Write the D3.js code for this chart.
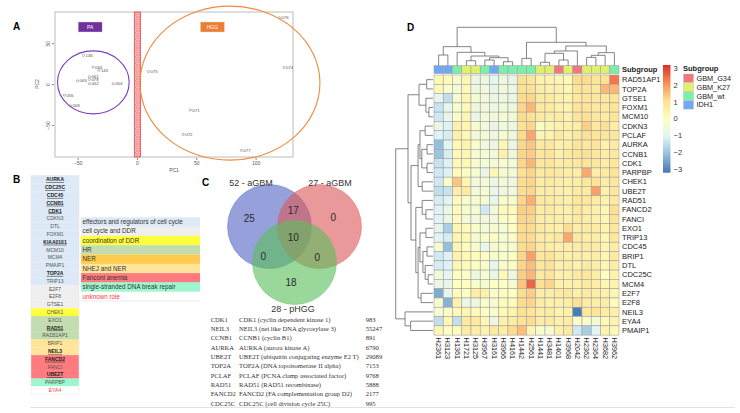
<!DOCTYPE html>
<html lang="en">
<head>
<meta charset="UTF-8">
<title>Figure</title>
<script src="https://cdn.jsdelivr.net/npm/d3@7/dist/d3.min.js"></script>
<style>
    body { margin: 0; background: #fff; }
    svg { display: block; font-family: "Liberation Sans", Arial, sans-serif; }
</style>
</head>
<body>
<svg id="fig" width="740" height="413"></svg>
<script>
// ---- panel A: PCA ----
const pcaIds = ["146","063","145","061","078","052","065","054","055","058","075","071","072","077","076","074"];
const pcaPC1 = [-45,-37,-32,-40,-40,-40,-50,-20,-61,-56,9.6,45,39,88,120,124];
const pcaPC2 = [35,20.7,17,8.9,5.7,0.4,4,0.4,-13.4,-26.5,15.4,-31.7,-61.4,-80.9,80.9,20.4];
const pcaTicksX = [-50, 0, 50, 100];
const pcaTicksY = [-50, 0, 50];
// group ellipses: centre and radii in PC units
const groupNames = ["PA", "HGG"];
const groupCx = [-36.7, 78.4];
const groupCy = [2.1, 1.2];
const groupRx = [30.2, 75.8];
const groupRy = [38.5, 94];
const groupColors = ["#7b3fbf", "#f08a3c"];
const groupBoxColors = ["#7030a0", "#ed7d31"];
const groupBoxX = [-49.5, 53.5];

// ---- panel B ----
const geneList = ["AURKA","CDC25C","CDC45","CCNB1","CDK1","CDKN3","DTL","FOXM1","KIAA0101","MCM10","MCM4","PMAIP1","TOP2A","TRIP13","E2F7","E2F8","GTSE1","CHEK1","EXO1","RAD51","RAD51AP1","BRIP1","NEIL3","FANCD2","FANCI","UBE2T","PARPBP","EYA4"];
const geneRole = [0,0,0,0,0,0,0,0,0,0,0,0,0,0,1,1,1,2,3,3,3,5,5,6,6,6,7,8];
const geneBold = ["AURKA","CDC25C","CDC45","CCNB1","CDK1","KIAA0101","TOP2A","RAD51","NEIL3","FANCD2","UBE2T"];
const roleLabels = ["effectors and regulators of cell cycle","cell cycle and DDR","coordination of DDR","HR","NER","NHEJ and NER","Fanconi anemia","single-stranded DNA break repair","unknown role"];
const roleColors = ["#dde9f6","#efefef","#ffff3c","#c3ddb0","#ffcb4f","#ffe59a","#ff7b7f","#9cf7ce","#ffffff"];

// ---- panel C ----
const vennSets = ["52 - aGBM", "27 - aGBM", "28 - pHGG"];
const vennColors = ["#5566c4", "#dc5a5a", "#5cbf5c"];
const vennCounts = [25, 17, 0, 10, 0, 0, 18];
const tabSymbol = ["CDK1","NEIL3","CCNB1","AURKA","UBE2T","TOP2A","PCLAF","RAD51","FANCD2","CDC25C"];
const tabDesc = ["CDK1 (cyclin dependent kinase 1)","NEIL3 (nei like DNA glycosylase 3)","CCNB1 (cyclin B1)","AURKA (aurora kinase A)","UBE2T (ubiquitin conjugating enzyme E2 T)","TOP2A (DNA topoisomerase II alpha)","PCLAF (PCNA clamp associated factor)","RAD51 (RAD51 recombinase)","FANCD2 (FA complementation group D2)","CDC25C (cell division cycle 25C)"];
const tabId = ["983","55247","891","6790","29089","7153","9768","5888","2177","995"];

// ---- panel D: heatmap ----
const hmRows = ["RAD51AP1","TOP2A","GTSE1","FOXM1","MCM10","CDKN3","PCLAF","AURKA","CCNB1","CDK1","PARPBP","CHEK1","UBE2T","RAD51","FANCD2","FANCI","EXO1","TRIP13","CDC45","BRIP1","DTL","CDC25C","MCM4","E2F7","E2F8","NEIL3","EYA4","PMAIP1"];
const hmCols = ["H2361","H3123","H1361","H1721","H3125","H3967","H3161","H3966","H4161","H1442","H2561","H1441","H3481","H1401","H3968","H2042","H2362","H2364","H3682","H3962"];
const colGroup = ["IDH1","IDH1","GBM_wt","GBM_K27","GBM_K27","GBM_wt","IDH1","GBM_wt","GBM_wt","GBM_wt","GBM_wt","GBM_K27","GBM_K27","GBM_G34","GBM_K27","GBM_G34","GBM_K27","GBM_K27","GBM_K27","GBM_wt"];
const subgroups = ["GBM_G34","GBM_K27","GBM_wt","IDH1"];
const subgroupColors = ["#f2777b","#e1f06a","#78f0a8","#70a8f2"];
const legendTicks = [3, 2, 1, 0, -1, -2, -3];
const expr = [
    [0.2,0.1,-0.3,0.3,-0.7,-0.6,-0.9,-0.6,-0.8,1.0,0.9,0.4,0.4,0.3,0.2,1.1,1.1,0.9,1.0,2.4],
    [0.2,-0.2,-0.4,0.2,-0.6,-0.5,-0.8,-0.5,-0.7,1.0,1.0,0.6,0.5,0.5,0.3,0.9,0.9,0.8,1.6,1.6],
    [-0.9,-1.5,-0.3,0.3,-0.4,-0.5,-0.7,-0.6,-0.7,1.1,1.2,0.7,0.7,0.5,0.4,0.8,0.9,0.8,0.8,0.9],
    [-1.4,-0.9,-0.3,0.2,-0.6,-0.5,-0.6,-0.5,-0.6,1.2,1.6,0.7,0.7,0.5,0.4,0.9,0.9,0.8,0.7,0.9],
    [-1.3,-0.8,-0.2,0.3,-0.7,-0.4,-0.5,-0.3,-0.5,1.1,1.0,0.7,0.6,0.6,0.4,0.9,1.0,0.8,0.7,0.9],
    [-0.7,-1.1,0.5,0.3,-0.3,-0.5,-0.8,-0.5,-0.6,1.0,1.2,-0.1,0.3,0.4,0.5,0.6,1.3,0.8,1.0,0.6],
    [-1.1,-1.2,0.5,0.2,-0.5,-0.4,-0.6,-0.3,-0.6,1.1,1.8,0.3,0.4,0.7,0.5,0.8,1.0,0.9,0.9,0.8],
    [-2.1,-1.0,0.2,0.4,-0.2,-0.5,-0.7,0.3,-0.7,1.2,1.4,0.7,0.8,0.5,0.6,0.9,0.8,0.9,0.5,0.7],
    [-2.0,-1.2,0.2,0.3,-0.3,-0.4,-0.5,0.5,-0.6,1.2,1.3,0.8,0.9,0.5,0.7,0.9,1.0,0.8,0.6,0.8],
    [-1.4,-1.1,0.2,0.2,-0.3,-0.4,-0.4,-0.3,-0.4,1.2,1.6,0.8,0.9,0.6,0.7,0.8,0.9,0.8,0.6,0.8],
    [-1.3,-1.1,0.1,-0.1,-0.3,-0.8,0.3,-0.3,-0.4,1.0,1.2,0.7,0.8,0.7,0.6,0.6,1.8,0.6,0.7,0.9],
    [-1.3,-0.2,1.4,0.3,-0.5,-0.4,-0.7,-0.4,-0.6,1.1,1.2,0.6,0.7,0.6,0.5,0.6,0.8,0.9,0.6,0.8],
    [-1.5,-1.4,0.6,0.7,-0.5,-0.3,-0.7,-0.6,-0.5,1.1,1.2,0.6,0.6,0.5,0.5,0.7,0.7,1.9,0.5,0.8],
    [-1.2,-1.0,0.1,-0.2,-0.3,-0.3,-0.8,-0.2,-0.3,1.2,1.7,0.7,0.7,0.6,0.5,0.8,0.8,0.6,0.4,0.7],
    [-1.1,-0.7,0.1,-0.2,-0.4,-1.3,-0.5,0.1,0.1,1.3,1.3,0.6,0.7,0.5,0.5,0.8,0.6,0.5,0.3,1.0],
    [-1.0,-0.7,0.1,-0.4,-0.5,-0.5,-0.5,-0.1,0.0,1.2,1.2,0.6,0.6,0.6,0.5,0.7,0.6,0.5,0.3,0.9],
    [-0.9,-1.8,0.3,0.1,-0.2,-0.4,-0.3,-0.3,0.0,1.1,1.1,0.7,0.6,0.5,1.1,0.6,0.7,0.7,0.4,0.8],
    [-1.0,-1.2,0.3,0.2,-0.3,-0.2,-0.1,-0.3,-0.2,1.1,1.1,0.6,0.6,0.8,1.8,0.7,0.6,0.6,0.3,0.8],
    [-0.3,-2.1,0.3,0.1,-0.3,-0.8,-0.3,-0.2,-0.3,1.1,1.2,0.7,0.6,0.5,0.6,0.6,0.7,0.6,0.3,0.6],
    [-1.3,-1.1,0.4,0.2,0.1,-0.1,-0.3,-0.2,0.0,1.2,1.9,0.8,0.9,0.6,0.5,0.6,0.5,0.6,0.3,0.7],
    [-1.2,-1.1,0.3,0.1,0.0,-0.2,-0.8,-0.2,-0.1,1.2,1.5,0.8,1.0,0.5,0.6,0.4,0.7,0.6,0.3,0.6],
    [-0.5,-0.9,0.0,-0.1,-0.6,-0.3,-0.7,0.2,-0.6,1.3,1.6,0.7,0.9,0.5,0.5,0.7,0.8,0.6,0.0,0.4],
    [-0.7,-0.8,0.0,0.0,-0.2,-0.3,-0.1,-0.1,-0.3,1.4,2.6,1.0,1.2,0.5,0.5,0.5,0.7,0.6,0.3,0.4],
    [-2.4,-0.8,0.1,0.0,0.6,0.5,-0.2,0.1,0.0,1.1,1.3,0.6,0.6,0.7,0.8,0.5,0.7,0.6,0.5,0.3],
    [-0.3,-2.3,0.4,-0.7,-0.6,-0.2,-0.3,0.1,0.1,1.1,1.2,0.6,0.5,0.5,0.6,1.0,0.6,0.6,0.6,0.1],
    [-0.3,-0.2,0.2,0.3,0.1,-0.1,-0.2,0.2,0.4,1.0,0.9,0.6,0.7,0.4,0.5,-3.1,0.8,0.9,0.6,0.5],
    [-1.5,0.3,-1.5,0.7,0.7,0.3,-0.7,0.5,0.6,0.9,1.1,0.6,0.7,0.5,0.6,-0.2,-0.2,-0.4,0.2,0.4],
    [0.3,-0.1,0.1,0.6,0.6,0.4,0.7,0.6,1.1,1.5,0.3,-0.2,-0.3,0.5,0.7,-1.3,-1.8,-1.0,0.4,0.2]
];
// dendrograms: leaves are column/row indices, h = merge height (root = 1)
const colTree = {h: 1, c: [
    {h: .496, c: [{h: .278, c: [0, 1]},
                  {h: .348, c: [2, {h: .252, c: [{h: .13, c: [3, 4]},
                                                 {h: .209, c: [{h: .148, c: [5, 6]}, {h: .104, c: [7, 8]}]}]}]}]},
    {h: .609, c: [{h: .191, c: [9, 10]},
                  {h: .513, c: [{h: .383, c: [{h: .322, c: [{h: .087, c: [11, 12]}, {h: .148, c: [13, 14]}]}, 15]},
                                {h: .34, c: [{h: .27, c: [{h: .217, c: [16, 17]}, 18]}, 19]}]}]}
]};
const rowTree = {h: 1, c: [
    {h: .67, c: [
        {h: .375, c: [{h: .17, c: [0, 1]}, {h: .19, c: [2, {h: .11, c: [3, 4]}]}]},
        {h: .59, c: [
            {h: .40, c: [{h: .35, c: [{h: .21, c: [5, 6]}, {h: .30, c: [{h: .16, c: [7, 8]}, {h: .16, c: [9, 10]}]}]},
                         {h: .29, c: [11, 12]}]},
            {h: .46, c: [{h: .29, c: [13, {h: .19, c: [14, 15]}]},
                         {h: .40, c: [{h: .35, c: [{h: .19, c: [16, 17]},
                                                   {h: .27, c: [{h: .16, c: [18, 19]}, {h: .21, c: [20, {h: .13, c: [21, 22]}]}]}]},
                                      {h: .32, c: [23, 24]}]}]}
        ]}
    ]},
    {h: .75, c: [25, {h: .6, c: [26, 27]}]}
]};

const svg = d3.select("#fig");

// panel letters
svg.selectAll("text.panel")
    .data([["A", 13, 30], ["B", 13, 183], ["C", 202, 186], ["D", 407, 31]])
    .enter().append("text")
    .attr("class", "panel")
    .attr("x", d => d[1]).attr("y", d => d[2])
    .attr("font-size", 10).attr("font-weight", "bold")
    .text(d => d[0]);

svg.append("line")
    .attr("x1", 30).attr("x2", 735).attr("y1", 407.5).attr("y2", 407.5)
    .attr("stroke", "#e2e2e2").attr("stroke-width", 1);

// ================= A =================
function drawPCA() {
    const g = svg.append("g");
    const x = d3.scaleLinear().domain([-69, 131.5]).range([55, 293]);
    const y = d3.scaleLinear().domain([-89, 88]).range([157, 12]);

    const defs = svg.append("defs");
    const pat = defs.append("pattern")
        .attr("id", "hatch").attr("patternUnits", "userSpaceOnUse")
        .attr("width", 2.4).attr("height", 2.4);
    pat.append("rect").attr("width", 2.4).attr("height", 2.4).attr("fill", "#fbd0d0");
    pat.append("path").attr("d", "M0,0L2.4,2.4M2.4,0L0,2.4")
        .attr("stroke", "#ee5555").attr("stroke-width", 0.45);
    defs.append("clipPath").attr("id", "pcaClip")
        .append("rect").attr("x", 55).attr("y", 12).attr("width", 238).attr("height", 145);

    g.append("rect")
        .attr("x", 55).attr("y", 12).attr("width", 238).attr("height", 145)
        .attr("fill", "none").attr("stroke", "#aaa").attr("stroke-width", 0.8);

    const xa = g.append("g").attr("transform", "translate(0,158)")
        .call(d3.axisBottom(x).tickValues(pcaTicksX).tickSize(2).tickPadding(1.5));
    xa.select(".domain").remove();
    xa.selectAll("line").attr("stroke", "#888");
    xa.selectAll("text").attr("font-size", 5).attr("fill", "#555");

    const ya = g.append("g").attr("transform", "translate(54,0)")
        .call(d3.axisLeft(y).tickValues(pcaTicksY).tickSize(2));
    ya.select(".domain").remove();
    ya.selectAll("line").attr("stroke", "#888");
    ya.selectAll("text")
        .attr("font-size", 5).attr("fill", "#555")
        .attr("x", 0).attr("y", -4).attr("dy", 0)
        .attr("text-anchor", "middle")
        .attr("transform", "rotate(-90)");

    g.append("text").attr("x", 174).attr("y", 172).attr("text-anchor", "middle")
        .attr("font-size", 5).attr("fill", "#555").text("PC1");
    g.append("text").attr("transform", "translate(39,84) rotate(-90)").attr("text-anchor", "middle")
        .attr("font-size", 5).attr("fill", "#555").text("PC2");

    // separation band
    g.append("rect")
        .attr("x", x(-2.2)).attr("y", 12)
        .attr("width", x(3.1) - x(-2.2)).attr("height", 145)
        .attr("fill", "url(#hatch)").attr("stroke", "#e23a3a").attr("stroke-width", 0.7);

    const pts = pcaIds.map((id, i) => ({id: id, pc1: pcaPC1[i], pc2: pcaPC2[i]}));
    const pg = g.append("g").attr("clip-path", "url(#pcaClip)");
    pg.selectAll("circle").data(pts).enter().append("circle")
        .attr("cx", d => x(d.pc1)).attr("cy", d => y(d.pc2)).attr("r", 1.1)
        .attr("fill", "none").attr("stroke", "#777").attr("stroke-width", 0.5);
    pg.selectAll("text").data(pts).enter().append("text")
        .attr("x", d => x(d.pc1) + 2).attr("y", d => y(d.pc2)).attr("dy", "0.35em")
        .attr("font-size", 4.4).attr("fill", "#555")
        .text(d => d.id);

    g.selectAll("ellipse").data(groupNames).enter().append("ellipse")
        .attr("cx", (d, i) => x(groupCx[i])).attr("cy", (d, i) => y(groupCy[i]))
        .attr("rx", (d, i) => x(groupCx[i] + groupRx[i]) - x(groupCx[i]))
        .attr("ry", (d, i) => y(groupCy[i]) - y(groupCy[i] + groupRy[i]))
        .attr("fill", "none").attr("stroke", (d, i) => groupColors[i]).attr("stroke-width", 1.1);

    const lab = g.selectAll("g.grp").data(groupNames).enter().append("g").attr("class", "grp");
    lab.append("rect")
        .attr("x", (d, i) => x(groupBoxX[i])).attr("y", 22)
        .attr("width", 24).attr("height", 10)
        .attr("fill", (d, i) => groupBoxColors[i]).attr("stroke", "#ddd").attr("stroke-width", 0.4);
    lab.append("text")
        .attr("x", (d, i) => x(groupBoxX[i]) + 12).attr("y", 27).attr("dy", "0.35em")
        .attr("text-anchor", "middle").attr("font-size", 5).attr("fill", "#fff")
        .text(d => d);
}

// ================= B =================
function drawGenes() {
    const g = svg.append("g");
    const rowH = 7.8, top = 175.7;
    const y = i => top + i * rowH;
    g.selectAll("rect.gene").data(geneList).enter().append("rect")
        .attr("class", "gene")
        .attr("x", 31).attr("y", (d, i) => y(i)).attr("width", 48).attr("height", rowH + 0.2)
        .attr("fill", (d, i) => roleColors[geneRole[i]]);
    g.append("rect").attr("x", 31).attr("y", top).attr("width", 48).attr("height", rowH * geneList.length)
        .attr("fill", "none").attr("stroke", "#e4e4e4").attr("stroke-width", 0.5);
    g.selectAll("text.gene").data(geneList).enter().append("text")
        .attr("class", "gene")
        .attr("x", 55).attr("y", (d, i) => y(i) + rowH / 2).attr("dy", "0.35em")
        .attr("text-anchor", "middle").attr("font-size", 5)
        .attr("font-weight", d => geneBold.includes(d) ? "bold" : "normal")
        .attr("text-decoration", d => geneBold.includes(d) ? "underline" : null)
        .attr("fill", (d, i) => geneRole[i] === 8 ? "#ff3b3b" : (geneBold.includes(d) ? "#222" : "#555"))
        .text(d => d);

    const lTop = 217.3, lH = 9.3;
    g.selectAll("rect.role").data(roleLabels).enter().append("rect")
        .attr("class", "role")
        .attr("x", 81).attr("y", (d, i) => lTop + i * lH).attr("width", 119).attr("height", lH + 0.2)
        .attr("fill", (d, i) => roleColors[i]);
    g.append("line").attr("x1", 81).attr("x2", 200)
        .attr("y1", lTop + roleLabels.length * lH).attr("y2", lTop + roleLabels.length * lH)
        .attr("stroke", "#ddd").attr("stroke-width", 0.6);
    g.selectAll("text.role").data(roleLabels).enter().append("text")
        .attr("class", "role")
        .attr("x", 82.5).attr("y", (d, i) => lTop + i * lH + lH / 2).attr("dy", "0.35em")
        .attr("font-size", 6.3)
        .attr("fill", (d, i) => i === 8 ? "#ff3b3b" : "#333")
        .text(d => d);
}

// ================= C =================
function drawVenn() {
    const g = svg.append("g");
    const r = 42;
    const cx = [269.5, 319.5, 294.5], cy = [226.5, 226.5, 262.5];
    g.selectAll("circle").data(vennSets).enter().append("circle")
        .attr("cx", (d, i) => cx[i]).attr("cy", (d, i) => cy[i]).attr("r", r)
        .attr("fill", (d, i) => vennColors[i]).attr("fill-opacity", 0.62)
        .attr("stroke", (d, i) => vennColors[i]).attr("stroke-opacity", 0.7).attr("stroke-width", 0.6);
    const titlePos = [[251, 186], [330, 186], [293, 311.5]];
    g.selectAll("text.set").data(vennSets).enter().append("text")
        .attr("class", "set")
        .attr("x", (d, i) => titlePos[i][0]).attr("y", (d, i) => titlePos[i][1])
        .attr("text-anchor", "middle").attr("font-size", 9).attr("fill", "#333")
        .text(d => d);
    // region order: A only, A&B, B only, A&B&C, A&C, B&C, C only
    const countPos = [[249.3, 218.3], [293.3, 210], [333.3, 217.7], [293.3, 237.7], [263.3, 256], [317.3, 257.3], [291, 282.7]];
    g.selectAll("text.cnt").data(vennCounts).enter().append("text")
        .attr("class", "cnt")
        .attr("x", (d, i) => countPos[i][0]).attr("y", (d, i) => countPos[i][1]).attr("dy", "0.35em")
        .attr("text-anchor", "middle").attr("font-size", 10).attr("fill", "#2a2a2a")
        .text(d => d);

    const t = g.append("g").attr("font-family", "'Liberation Serif', 'Times New Roman', serif")
        .attr("font-size", 6.6).attr("fill", "#333");
    const rowY = i => 319.3 + i * 9.33;
    t.selectAll("text.sym").data(tabSymbol).enter().append("text").attr("class", "sym")
        .attr("x", 210.7).attr("y", (d, i) => rowY(i)).attr("dy", "0.35em").text(d => d);
    t.selectAll("text.desc").data(tabDesc).enter().append("text").attr("class", "desc")
        .attr("x", 239).attr("y", (d, i) => rowY(i)).attr("dy", "0.35em").text(d => d);
    t.selectAll("text.id").data(tabId).enter().append("text").attr("class", "id")
        .attr("x", 365.7).attr("y", (d, i) => rowY(i)).attr("dy", "0.35em").text(d => d);
}

// ================= D =================
function layoutTree(tree) {
    const root = d3.hierarchy(tree, d => d.c);
    root.eachAfter(n => {
        if (n.children) { n.pos = d3.mean(n.children, c => c.pos); n.h = n.data.h; }
        else { n.pos = n.data; n.h = 0; }
    });
    return root;
}

function drawDendro(g, root, posScale, hScale, horizontal) {
    const segs = [];
    root.each(n => {
        if (!n.children) return;
        const ps = n.children.map(c => c.pos);
        segs.push([d3.min(ps), n.h, d3.max(ps), n.h]);
        n.children.forEach(c => segs.push([c.pos, n.h, c.pos, c.h]));
    });
    g.selectAll("line").data(segs).enter().append("line")
        .attr(horizontal ? "x1" : "y1", d => posScale(d[0]))
        .attr(horizontal ? "y1" : "x1", d => hScale(d[1]))
        .attr(horizontal ? "x2" : "y2", d => posScale(d[2]))
        .attr(horizontal ? "y2" : "x2", d => hScale(d[3]))
        .attr("stroke", "#666").attr("stroke-width", 0.8);
}

function drawHeatmap() {
    const g = svg.append("g");
    const x0 = 434, cw = 9.25, y0 = 75, ch = 9.29;
    const x = d3.scaleLinear().domain([0, hmCols.length]).range([x0, x0 + cw * hmCols.length]);
    const y = d3.scaleLinear().domain([0, hmRows.length]).range([y0, y0 + ch * hmRows.length]);
    const color = d3.scaleLinear()
        .domain([-3.2, -2.13, -1.07, 0, 1.07, 2.13, 3.2])
        .range(["#4575b4", "#91bfdb", "#e0f3f8", "#ffffbf", "#fee090", "#fc8d59", "#d73027"]);
    const grpColor = d3.scaleOrdinal().domain(subgroups).range(subgroupColors);

    const cells = [];
    expr.forEach((row, r) => row.forEach((v, c) => cells.push({r: r, c: c, v: v})));
    g.selectAll("rect.cell").data(cells).enter().append("rect")
        .attr("class", "cell")
        .attr("x", d => x(d.c)).attr("y", d => y(d.r))
        .attr("width", cw).attr("height", ch)
        .attr("fill", d => color(d.v))
        .attr("stroke", "#a3a3a3").attr("stroke-width", 0.6);

    // annotation bar
    g.selectAll("rect.ann").data(colGroup).enter().append("rect")
        .attr("class", "ann")
        .attr("x", (d, i) => x(i)).attr("y", 65.7).attr("width", cw).attr("height", 7.8)
        .attr("fill", d => grpColor(d))
        .attr("stroke", "#a3a3a3").attr("stroke-width", 0.6);
    g.append("text").attr("x", 622).attr("y", 69.8).attr("dy", "0.35em")
        .attr("font-size", 7.5).attr("font-weight", "bold").attr("fill", "#222").text("Subgroup");

    g.selectAll("text.rowlab").data(hmRows).enter().append("text")
        .attr("class", "rowlab")
        .attr("x", 622).attr("y", (d, i) => y(i + 0.5)).attr("dy", "0.35em")
        .attr("font-size", 7.5).attr("fill", "#222").text(d => d);
    g.selectAll("text.collab").data(hmCols).enter().append("text")
        .attr("class", "collab")
        .attr("transform", (d, i) => `translate(${x(i + 0.5)},${y(hmRows.length) + 2.5}) rotate(90)`)
        .attr("dy", "0.35em")
        .attr("font-size", 7.3).attr("fill", "#222").text(d => d);

    // dendrograms
    const colRoot = layoutTree(colTree);
    drawDendro(g.append("g"), colRoot, p => x(p + 0.5),
        d3.scaleLinear().domain([0, 1]).range([65.7, 27.3]), true);
    const rowRoot = layoutTree(rowTree);
    drawDendro(g.append("g"), rowRoot, p => y(p + 0.5),
        d3.scaleLinear().domain([0, 1]).range([433, 395.7]), false);

    // colour legend
    const ly = d3.scaleLinear().domain([-3.2, 3.2]).range([172.7, 65]);
    const grad = svg.select("defs").append("linearGradient")
        .attr("id", "hmgrad").attr("x1", 0).attr("x2", 0).attr("y1", 1).attr("y2", 0);
    color.domain().forEach(v => grad.append("stop")
        .attr("offset", (v + 3.2) / 6.4).attr("stop-color", color(v)));
    g.append("rect").attr("x", 663).attr("y", 65).attr("width", 7.5).attr("height", 107.7)
        .attr("fill", "url(#hmgrad)");
    g.selectAll("text.lt").data(legendTicks).enter().append("text")
        .attr("class", "lt")
        .attr("x", 673.5).attr("y", d => ly(d)).attr("dy", "0.35em")
        .attr("font-size", 7.5).attr("fill", "#333")
        .text(d => d < 0 ? "\u2212" + (-d) : d);

    // subgroup legend
    g.append("text").attr("x", 683).attr("y", 68.5).attr("dy", "0.35em")
        .attr("font-size", 7.5).attr("font-weight", "bold").attr("fill", "#222").text("Subgroup");
    g.selectAll("rect.sg").data(subgroups).enter().append("rect")
        .attr("class", "sg")
        .attr("x", 683.5).attr("y", (d, i) => 74 + i * 8.9).attr("width", 10).attr("height", 8.4)
        .attr("fill", d => grpColor(d)).attr("stroke", "#bbb").attr("stroke-width", 0.4);
    g.selectAll("text.sg").data(subgroups).enter().append("text")
        .attr("class", "sg")
        .attr("x", 696.5).attr("y", (d, i) => 78.2 + i * 8.9).attr("dy", "0.35em")
        .attr("font-size", 7.3).attr("fill", "#222").text(d => d);
}

drawPCA();
drawGenes();
drawVenn();
drawHeatmap();
</script>
</body>
</html>
